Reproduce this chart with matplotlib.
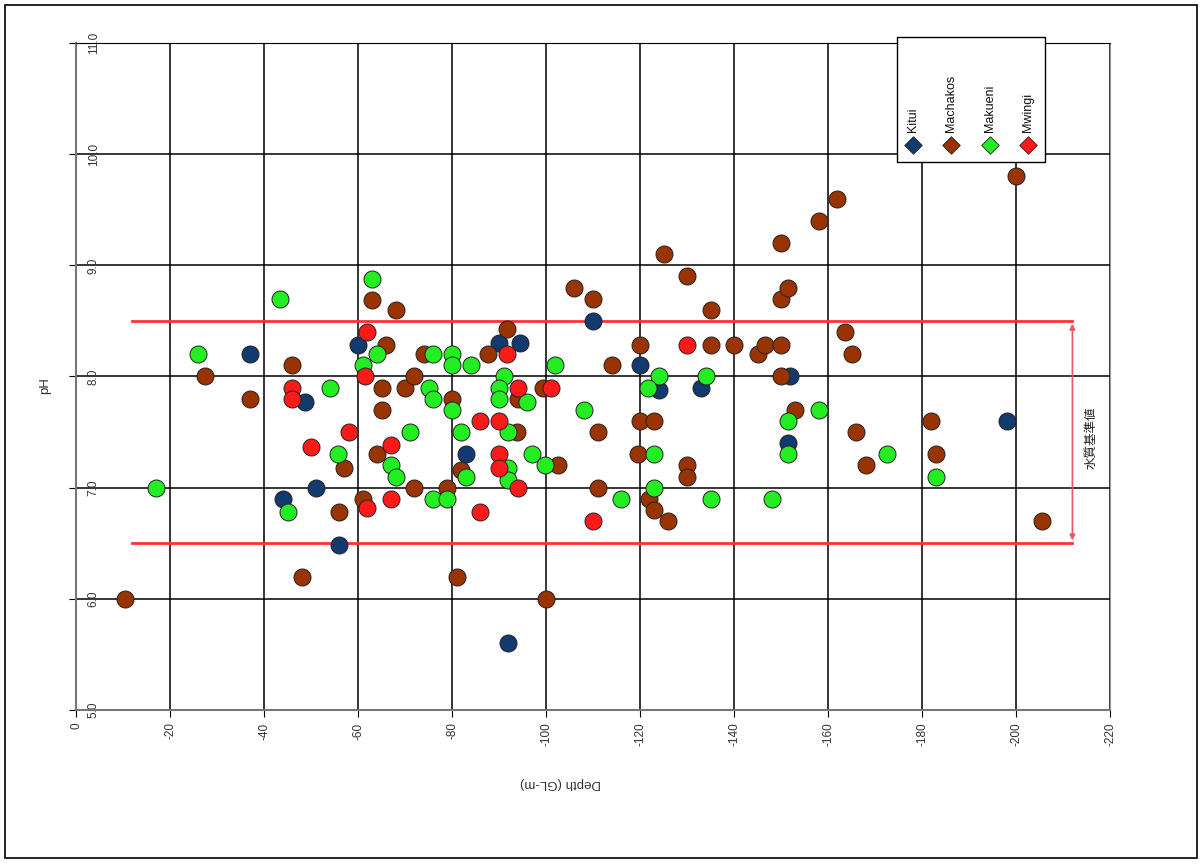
import matplotlib
matplotlib.use('Agg')
import matplotlib.pyplot as plt
from matplotlib.patches import Rectangle

plt.rcParams['font.family'] = ['Liberation Sans', 'Noto Sans CJK JP', 'DejaVu Sans']

# Kitui
kitui_depth = [-37, -44, -48.7, -51, -56, -60, -83, -90, -94.5, -92, -110, -120, -124, -133, -152, -151.5, -198]
kitui_ph = [8.2, 6.9, 7.77, 7.0, 6.48, 8.28, 7.3, 8.3, 8.3, 5.6, 8.5, 8.1, 7.88, 7.9, 8.0, 7.4, 7.6]

# Machakos
machakos_depth = [-10.4, -27.4, -37, -46, -48, -56, -57, -61, -63, -64, -65, -65, -66, -68, -70, -72,
                  -72, -74, -79, -80, -81, -82, -87.7, -91.7, -93.8, -94, -99.4, -100, -102.5, -106,
                  -110, -111, -111, -114, -119.6, -120, -120, -123, -122, -123, -126, -125, -130, -130,
                  -130, -135, -135, -140, -145, -146.6, -150, -150, -150, -151.5, -150, -153, -158,
                  -162, -163.6, -165, -166, -168, -182, -183, -200, -205.5]
machakos_ph = [6.0, 8.0, 7.8, 8.1, 6.2, 6.78, 7.18, 6.9, 8.69, 7.3, 7.9, 7.7, 8.28, 8.6, 7.9, 8.0,
               7.0, 8.2, 7.0, 7.8, 6.2, 7.16, 8.2, 8.43, 7.5, 7.8, 7.9, 6.0, 7.2, 8.8,
               8.7, 7.5, 7.0, 8.1, 7.3, 8.28, 7.6, 7.6, 6.9, 6.8, 6.7, 9.1, 8.9, 7.2,
               7.1, 8.6, 8.28, 8.28, 8.2, 8.28, 8.28, 8.0, 8.7, 8.8, 9.2, 7.7, 9.4,
               9.6, 8.4, 8.2, 7.5, 7.2, 7.6, 7.3, 9.8, 6.7]

# Makueni
makueni_depth = [-17, -26, -43.4, -45, -54, -55.7, -61, -63, -64, -67, -68, -71, -75, -76, -76, -80,
                 -80, -84, -80, -82, -83, -76, -79, -91, -90, -90, -96, -92, -92, -92, -97, -99.8,
                 -102, -108, -116, -123, -123, -124, -121.7, -134, -135, -148, -151.5, -151.5, -158,
                 -172.5, -183]
makueni_ph = [7.0, 8.2, 8.7, 6.78, 7.9, 7.3, 8.1, 8.88, 8.2, 7.2, 7.1, 7.5, 7.9, 7.8, 8.2, 8.2,
              8.1, 8.1, 7.7, 7.5, 7.1, 6.9, 6.9, 8.0, 7.9, 7.8, 7.77, 7.5, 7.18, 7.07, 7.3, 7.2,
              8.1, 7.7, 6.9, 7.3, 7.0, 8.0, 7.9, 8.0, 6.9, 6.9, 7.6, 7.3, 7.7,
              7.3, 7.1]

# Mwingi
mwingi_depth = [-46, -46, -50, -58, -62, -61.5, -62, -67, -67, -86, -86, -90, -91.7, -94, -90, -90,
                -94, -101, -110, -130]
mwingi_ph = [7.9, 7.8, 7.37, 7.5, 8.4, 8.0, 6.82, 7.38, 6.9, 7.6, 6.78, 7.6, 8.2, 7.9, 7.3, 7.18,
             7.0, 7.9, 6.7, 8.28]

series_names = ['Kitui', 'Machakos', 'Makueni', 'Mwingi']
series_colors = ['#123a6e', '#993300', '#22ee22', '#ff1a1a']

# water quality standard range
std_low, std_high = 6.5, 8.5
std_x0, std_x1 = -12, -212

x_ticks = list(range(0, -221, -20))
y_ticks = [5.0, 6.0, 7.0, 8.0, 9.0, 10.0, 11.0]

fig = plt.figure(figsize=(12.03, 8.65), dpi=100)
ax = fig.add_axes([0.0632, 0.1792, 0.8595, 0.7711])

data = [(kitui_depth, kitui_ph), (machakos_depth, machakos_ph),
        (makueni_depth, makueni_ph), (mwingi_depth, mwingi_ph)]
for (d, p), name, c in zip(data, series_names, series_colors):
    ax.scatter(d, p, s=150, color=c, edgecolors='#222222', linewidths=0.7, zorder=3, label=name)

ax.plot([std_x0, std_x1], [std_high, std_high], color='#ff3333', lw=2, zorder=2)
ax.plot([std_x0, std_x1], [std_low, std_low], color='#ff3333', lw=2, zorder=2)
ax.annotate('', xy=(-212, std_high), xytext=(-212, std_low),
            arrowprops=dict(arrowstyle='<|-|>', color='#ee5566', lw=1.2, mutation_scale=8), zorder=2)
ax.text(-216, 7.45, '水質基準値', rotation=90, ha='center', va='center', fontsize=9, color='#222222')

ax.set_xlim(0, -220)
ax.set_ylim(5, 11)
ax.set_xticks(x_ticks)
ax.set_xticklabels([str(t) for t in x_ticks], rotation=90, fontsize=8.5, color='#333333')
ax.set_yticks(y_ticks)
ax.set_yticklabels(['%.1f' % t for t in y_ticks], rotation=90, fontsize=8.5, color='#333333', va='center')
ax.tick_params(axis='y', direction='out', length=5, pad=-22)
ax.tick_params(axis='x', direction='out', length=5, pad=4)
ax.grid(True, color='black', lw=1.1)
ax.set_axisbelow(True)
for side in ['bottom', 'left']:
    ax.spines[side].set_color('#777777')
    ax.spines[side].set_linewidth(1.5)
ax.spines['right'].set_color('#999999')
ax.spines['top'].set_color('black')

ax.text(0.469, -0.109, 'Depth (GL-m)', rotation=180, transform=ax.transAxes,
        ha='center', va='center', fontsize=9.5, color='#333333')
ax.text(-0.030, 0.487, 'pH', rotation=90, transform=ax.transAxes,
        ha='center', va='center', fontsize=9.5, color='#333333')

# legend drawn by hand (rotated labels)
ax.add_patch(Rectangle((0.794, 0.822), 0.143, 0.187, transform=ax.transAxes, facecolor='white',
                       edgecolor='black', lw=1, clip_on=False, zorder=5))
leg_x = [0.809, 0.846, 0.884, 0.921]
for lx, name, c in zip(leg_x, series_names, series_colors):
    ax.scatter([lx], [0.847], s=80, marker='D', color=c, edgecolors='#222222', linewidths=0.6,
               transform=ax.transAxes, clip_on=False, zorder=6)
    ax.text(lx, 0.866, name, rotation=90, transform=ax.transAxes, ha='center', va='bottom',
            fontsize=9, color='#111111', zorder=6)

fig.add_artist(Rectangle((0.004, 0.008), 0.991, 0.986, transform=fig.transFigure,
                         fill=False, edgecolor='black', lw=1.2))

fig.savefig('out.png', dpi=100)
